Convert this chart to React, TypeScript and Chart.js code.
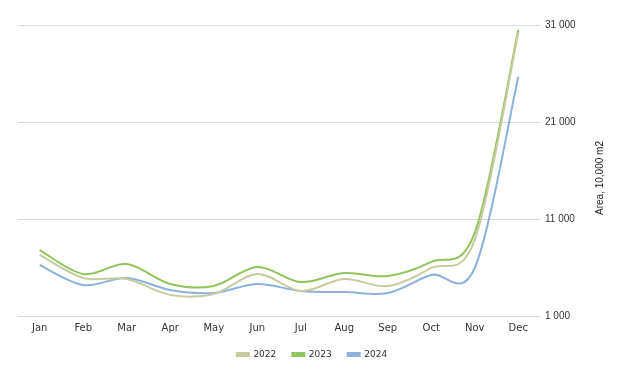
import React, { useEffect, useRef } from "react";
import { Chart, registerables } from "chart.js";

Chart.register(...registerables);

const months = ["Jan", "Feb", "Mar", "Apr", "May", "Jun", "Jul", "Aug", "Sep", "Oct", "Nov", "Dec"];
const series2022 = [7290, 4920, 4810, 3170, 3270, 5330, 3580, 4810, 4090, 5950, 8840, 30200];
const series2023 = [7800, 5330, 6360, 4300, 4090, 6050, 4500, 5430, 5120, 6570, 9560, 30480];
const series2024 = [6260, 4200, 4920, 3680, 3370, 4300, 3580, 3470, 3370, 5230, 5950, 25640];
const yTicks = [1000, 11000, 21000, 31000];
const yTitle = "Area, 10,000 m2";

const fmt = (v: number) => String(v).replace(/\B(?=(\d{3})+(?!\d))/g, " ");

// Smooth Catmull-Rom style curve through the scale-computed points
const smoothPlugin = {
  id: "smoothCR",
  beforeDatasetsDraw(chart: any) {
    chart.getSortedVisibleDatasetMetas().forEach((meta: any) => {
      if (!meta.dataset) return;
      meta.dataset.updateControlPoints(chart.chartArea, "x");
      const pts = meta.data;
      const n = pts.length;
      for (let i = 0; i < n; i++) {
        const p = pts[i];
        const prev = pts[Math.max(0, i - 1)];
        const next = pts[Math.min(n - 1, i + 1)];
        const dx = (next.x - prev.x) / 6;
        const dy = (next.y - prev.y) / 6;
        p.cp1x = p.x - dx;
        p.cp1y = p.y - dy;
        p.cp2x = p.x + dx;
        p.cp2y = p.y + dy;
      }
    });
  },
};

const titlePlugin = {
  id: "rotTitle",
  afterDraw(chart: any) {
    const ctx = chart.ctx;
    ctx.save();
    ctx.translate(600, 178);
    ctx.rotate(-Math.PI / 2);
    ctx.font = "10px 'Liberation Sans'";
    ctx.fillStyle = "#222";
    ctx.textAlign = "center";
    ctx.textBaseline = "middle";
    ctx.fillText(yTitle, 0, 0);
    ctx.restore();
  },
};

export default function App() {
  const ref = useRef<HTMLCanvasElement | null>(null);
  useEffect(() => {
    document.body.style.margin = "0";
    const ctx = ref.current!;
    const chart = new Chart(ctx, {
      type: "line",
      data: {
        labels: months,
        datasets: [
          { label: "2022", data: series2022, yAxisID: "y", borderColor: "#c8cb9f", backgroundColor: "#c8cb9f", borderWidth: 2, pointRadius: 0, tension: 0.4 },
          { label: "2023", data: series2023, yAxisID: "y", borderColor: "#92c45e", backgroundColor: "#92c45e", borderWidth: 2, pointRadius: 0, tension: 0.4 },
          { label: "2024", data: series2024, yAxisID: "y", borderColor: "#8db0dc", backgroundColor: "#8db0dc", borderWidth: 2, pointRadius: 0, tension: 0.4 },
        ],
      },
      plugins: [smoothPlugin, titlePlugin],
      options: {
        animation: false,
        responsive: false,
        maintainAspectRatio: false,
        layout: { padding: { left: 0, right: 0, top: 25, bottom: 11 } },
        plugins: {
          tooltip: { enabled: false },
          legend: {
            position: "bottom",
            labels: {
              boxWidth: 12,
              boxHeight: 3,
              padding: 16,
              color: "#333",
              font: { family: "DejaVu Sans", size: 9 },
            },
          },
        },
        scales: {
          x: {
            offset: true,
            grid: { display: false, drawTicks: false },
            border: { display: false },
            ticks: { color: "#333", padding: 6, font: { family: "DejaVu Sans", size: 10 }, maxRotation: 0 },
            afterFit: (axis: any) => {
              axis.height = 18;
            },
          },
          yLeft: {
            type: "linear",
            position: "left",
            display: true,
            min: 0,
            max: 1,
            grid: { display: false, drawTicks: false },
            border: { display: false },
            ticks: { display: false },
            afterFit: (axis: any) => {
              axis.width = 18;
            },
          },
          y: {
            type: "linear",
            position: "right",
            min: 1000,
            max: 31000,
            afterBuildTicks: (axis: any) => {
              axis.ticks = yTicks.map((v) => ({ value: v }));
            },
            afterFit: (axis: any) => {
              axis.width = 84;
            },
            grid: { color: "#d9d9d9", drawTicks: false, lineWidth: 1 },
            border: { display: false },
            ticks: {
              color: "#333",
              padding: 5,
              font: { family: "Liberation Sans", size: 10 },
              callback: (v: any) => fmt(Number(v)),
            },
          },
        },
      },
    });
    return () => chart.destroy();
  }, []);
  return <canvas ref={ref} width={624} height={380} style={{ display: "block" }} />;
}
